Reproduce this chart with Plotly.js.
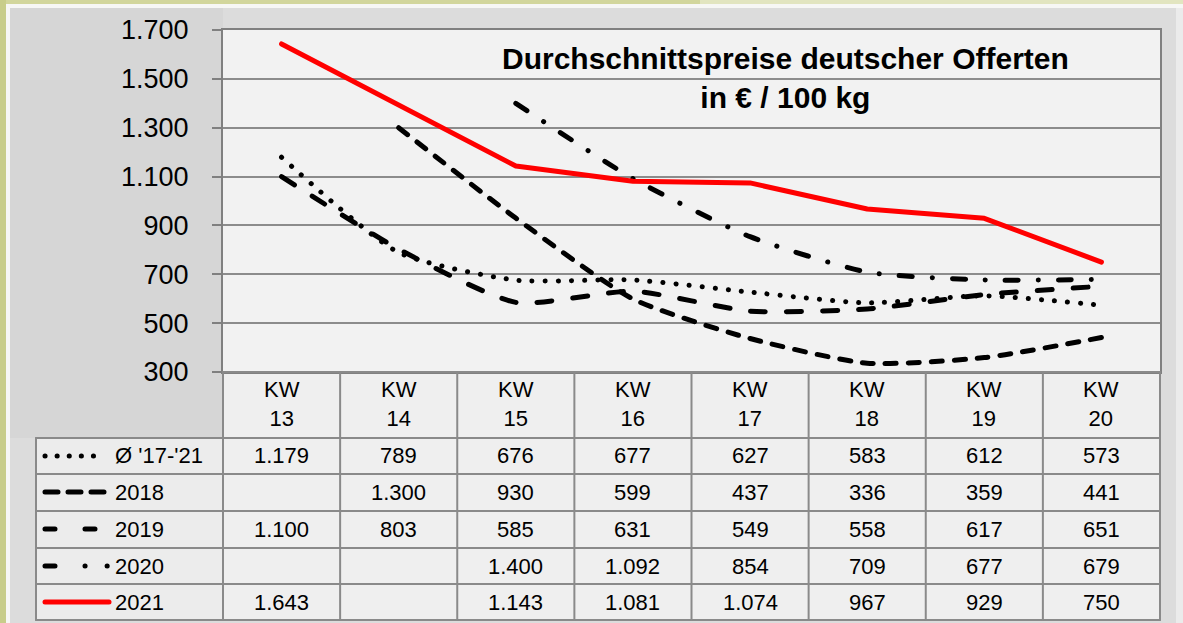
<!DOCTYPE html>
<html>
<head>
<meta charset="utf-8">
<script src="https://cdn.plot.ly/plotly-3.0.1.min.js"></script>
<style>
html,body{margin:0;padding:0;background:#f2f2f2;}
#chart{width:1183px;height:623px;}
.scatterlayer .js-line{stroke-linecap:round !important;stroke-linejoin:round !important;}
.shapelayer path{stroke-linecap:round !important;}
</style>
</head>
<body>
<div id="chart"></div>
<script>
// ---- data ----
const weeks = [13, 14, 15, 16, 17, 18, 19, 20];
const weekLabels = ["KW<br>13","KW<br>14","KW<br>15","KW<br>16","KW<br>17","KW<br>18","KW<br>19","KW<br>20"];
const seriesNames = ["Ø '17-'21", "2018", "2019", "2020", "2021"];
const avg17_21 = [1179, 789, 676, 677, 627, 583, 612, 573];
const y2018 = [null, 1300, 930, 599, 437, 336, 359, 441];
const y2019 = [1100, 803, 585, 631, 549, 558, 617, 651];
const y2020 = [null, null, 1400, 1092, 854, 709, 677, 679];
const y2021 = [1643, null, 1143, 1081, 1074, 967, 929, 750];
const yTicks = [300, 500, 700, 900, 1100, 1300, 1500, 1700];
const titleText = "Durchschnittspreise deutscher Offerten<br>in € / 100 kg";

// ---- styles ----
const styles = [
  {color:'#000', width:5, dash:'0.1px,13px', legendDash:'0.1px,12px', shape:'spline'},
  {color:'#000', width:5, dash:'11px,12px', legendDash:'13px,10px', shape:'spline'},
  {color:'#000', width:5, dash:'15px,21px', legendDash:'10px,30px', shape:'spline'},
  {color:'#000', width:5, dash:'13px,20px,0.1px,20px', legendDash:'10px,30px,0.1px,22px,0.1px,100px', shape:'spline'},
  {color:'#ff0000', width:5, dash:'solid', legendDash:'solid', shape:'linear'}
];
const allSeries = [avg17_21, y2018, y2019, y2020, y2021];

const L=223, R=1160, T=30, B=372, W=1183, H=623;
const px = p => (p - L) / (R - L);
const py = p => (B - p) / (B - T);
const FONT = 'Liberation Sans, Arial, sans-serif';

function fmt(v){
  if (v === null || v === undefined) return '';
  if (v >= 1000){
    const r = v % 1000;
    return Math.floor(v/1000) + '.' + String(r).padStart(3,'0');
  }
  return String(v);
}

const traces = allSeries.map((s,i)=>({
  x: weeks, y: s, type:'scatter', mode:'lines', name: seriesNames[i],
  connectgaps: true,
  line:{color:styles[i].color, width:styles[i].width, dash:styles[i].dash, shape:styles[i].shape, smoothing:0.6},
  hoverinfo:'skip'
}));

const shapes = [];
const annotations = [];
function rectPx(x0,y0,x1,y1,color){
  shapes.push({type:'rect', xref:'paper', yref:'paper', x0:px(x0), x1:px(x1), y0:py(y1), y1:py(y0), fillcolor:color, line:{width:0}, layer:'below'});
}
const MARG = '#dcdcdc';
rectPx(10, 8, 1176, 30, MARG);
rectPx(10, 8, 223, 438, '#d6d6d6');
rectPx(10, 438, 36, 623, MARG);
rectPx(1160, 8, 1176, 623, MARG);
rectPx(10, 620, 1176, 623, MARG);
rectPx(1176, 8, W, H, '#ebebeb');
rectPx(0, 0, W, 4, '#e2e5c0');
rectPx(0, 0, 700, 4, '#d2d69c');
rectPx(0, 4, W, 8, '#f7f7f5');
rectPx(0, 0, 6, H, '#c8cd8a');
rectPx(6, 4, 10, H, '#f7f7f5');
rectPx(223, 372, 1160, 620, '#efefef');
rectPx(36, 438, 223, 620, '#ececec');

const gridCol = '#8a8a8a';
const rowLines = [438, 474, 511, 548, 584, 620];
rowLines.forEach(r=>shapes.push({type:'line', xref:'paper', yref:'paper', x0:px(36), x1:1, y0:py(r), y1:py(r), line:{color:gridCol, width:2}}));
for (let i=0;i<=weeks.length;i++){
  shapes.push({type:'line', xref:'paper', yref:'paper', x0:i/weeks.length, x1:i/weeks.length, y0:py(372), y1:py(620), line:{color:gridCol, width:2}});
}
shapes.push({type:'line', xref:'paper', yref:'paper', x0:px(36), x1:px(36), y0:py(438), y1:py(620), line:{color:gridCol, width:2}});
shapes.push({type:'line', xref:'paper', yref:'paper', x0:0, x1:1, y0:0, y1:0, line:{color:gridCol, width:2}});

weekLabels.forEach((lab,k)=>annotations.push({xref:'paper', yref:'paper', x:(k+0.5)/weeks.length, y:py(404), text:lab, showarrow:false, font:{family:FONT, size:22, color:'#000'}, xanchor:'center', yanchor:'middle'}));
const rowCenters = [456, 492, 529, 566, 602];
allSeries.forEach((s,i)=>{
  s.forEach((v,k)=>{
    const t = fmt(v);
    if (t) annotations.push({xref:'paper', yref:'paper', x:(k+0.5)/weeks.length, y:py(rowCenters[i]), text:t, showarrow:false, font:{family:FONT, size:22, color:'#000'}, xanchor:'center', yanchor:'middle'});
  });
  annotations.push({xref:'paper', yref:'paper', x:px(113), y:py(rowCenters[i]), text:seriesNames[i], showarrow:false, font:{family:FONT, size:22, color:'#000'}, xanchor:'left', yanchor:'middle'});
  shapes.push({type:'line', xref:'paper', yref:'paper', x0:px(45), x1:px(i===3?108:(i===4?109:104)), y0:py(rowCenters[i]), y1:py(rowCenters[i]), line:{color:styles[i].color, width:5, dash:styles[i].legendDash}});
});

annotations.push({xref:'paper', yref:'paper', x:px(785), y:py(78), text:'<b>'+titleText+'</b>', showarrow:false, font:{family:FONT, size:30, color:'#000'}, xanchor:'center', yanchor:'middle'});

const layout = {
  width:W, height:H,
  margin:{l:L, r:W-R, t:T, b:H-B, pad:0},
  paper_bgcolor:'rgba(0,0,0,0)',
  plot_bgcolor:'rgba(0,0,0,0)',
  showlegend:false,
  hovermode:false,
  separators:',.',
  font:{family:FONT, color:'#000'},
  xaxis:{range:[12.5,20.5], showticklabels:false, showgrid:false, zeroline:false, ticks:'', showline:true, mirror:true, linecolor:'#808080', linewidth:2, fixedrange:true},
  yaxis:{range:[300,1700], tickvals:yTicks, separatethousands:true, tickformat:',d', showgrid:true, gridcolor:'#8c8c8c', gridwidth:2, zeroline:false,
         ticks:'outside', ticklen:9, tickwidth:2, tickcolor:'#808080', showline:true, mirror:true, linecolor:'#808080', linewidth:2,
         tickfont:{size:27, color:'#000', family:FONT}, ticklabelstandoff:18, fixedrange:true},
  shapes:shapes,
  annotations:annotations
};

Plotly.newPlot('chart', traces, layout, {displayModeBar:false, staticPlot:true});
</script>
</body>
</html>
